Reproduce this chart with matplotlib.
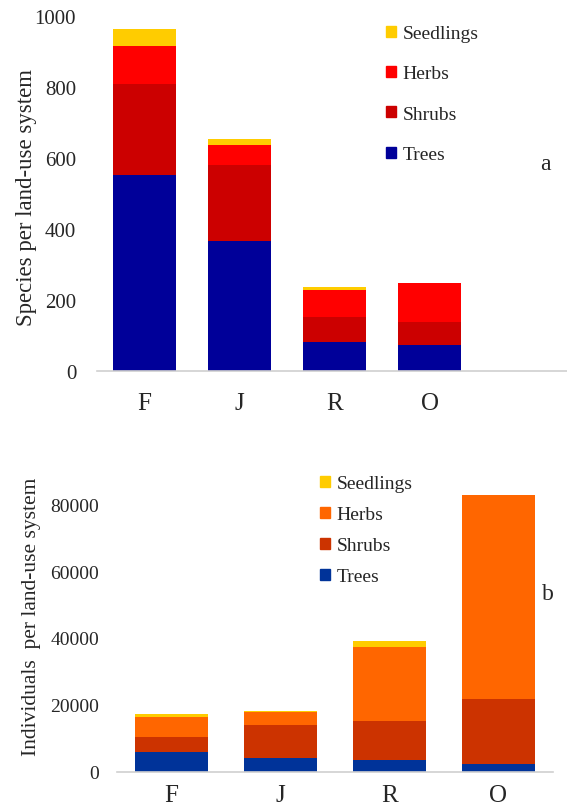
import matplotlib.pyplot as plt
from matplotlib.patches import Patch
import numpy as np

plt.rcParams['font.family'] = ['Liberation Serif', 'DejaVu Serif']

# Panel a: species per land-use system
cats_a = ["F", "J", "R", "O", ""]
trees_a = [553, 366, 83, 73, 0]
shrubs_a = [255, 214, 70, 66, 0]
herbs_a = [107, 57, 76, 110, 0]
seedlings_a = [48, 16, 8, 0, 0]

# Panel b: individuals per land-use system
cats_b = ["F", "J", "R", "O"]
trees_b = [6000, 4000, 3600, 2200]
shrubs_b = [4500, 10000, 11700, 19400]
herbs_b = [6000, 3800, 22100, 61000]
seedlings_b = [700, 400, 1800, 250]

col_a = {"Trees": "#000099", "Shrubs": "#CC0000", "Herbs": "#FF0000", "Seedlings": "#FFCC00"}
col_b = {"Trees": "#003399", "Shrubs": "#CC3300", "Herbs": "#FF6600", "Seedlings": "#FFCC00"}
txt = "#262626"

W, H = 567, 812
fig = plt.figure(figsize=(W / 100, H / 100), dpi=100)


def stack(ax, cats, series, colors, width):
    x = np.arange(len(cats))
    bottom = np.zeros(len(cats))
    for name, vals in series:
        ax.bar(x, vals, width, bottom=bottom, color=colors[name], label=name)
        bottom += np.array(vals)
    ax.set_xticks(x)
    ax.set_xticklabels(cats)
    ax.set_xlim(-0.5, len(cats) - 0.5)
    for s in ["top", "right", "left"]:
        ax.spines[s].set_visible(False)
    ax.spines["bottom"].set_color("#D0D0D0")
    ax.spines["bottom"].set_linewidth(1.2)
    ax.tick_params(length=0, colors=txt)
    ax.tick_params(axis="x", labelsize=18)


# top panel
ax1 = fig.add_axes([97 / W, 1 - 372 / H, 475 / W, 355 / H])
stack(ax1, cats_a, [("Trees", trees_a), ("Shrubs", shrubs_a), ("Herbs", herbs_a),
                    ("Seedlings", seedlings_a)], col_a, 0.66)
ax1.set_ylim(0, 1000)
ax1.set_yticks(range(0, 1001, 200))
ax1.tick_params(axis="y", pad=15, labelsize=15)
ax1.tick_params(axis="x", pad=15)
fig.text(27 / W, 1 - 197 / H, "Species per land-use system", rotation=90,
         ha="center", va="center", fontsize=16.4, color=txt)
fig.text(545 / W, 1 - 165 / H, "a", ha="center", va="center", fontsize=17, color=txt)
h1 = [Patch(color=col_a[n]) for n in ["Seedlings", "Herbs", "Shrubs", "Trees"]]
fig.legend(h1, ["Seedlings", "Herbs", "Shrubs", "Trees"], loc="upper left",
           bbox_to_anchor=(386 / W, 1 - 26 / H), frameon=False, fontsize=14,
           handlelength=0.5, handleheight=0.5, handletextpad=0.35,
           labelspacing=1.2, borderpad=0, borderaxespad=0, labelcolor=txt)

# bottom panel
ax2 = fig.add_axes([117 / W, 1 - 772.7 / H, 436 / W, 301 / H])
stack(ax2, cats_b, [("Trees", trees_b), ("Shrubs", shrubs_b), ("Herbs", herbs_b),
                    ("Seedlings", seedlings_b)], col_b, 0.67)
ax2.set_ylim(0, 90000)
ax2.set_yticks(range(0, 80001, 20000))
ax2.tick_params(axis="y", pad=13, labelsize=14)
ax2.tick_params(axis="x", pad=9)
fig.text(32 / W, 1 - 617 / H, "Individuals  per land-use system", rotation=90,
         ha="center", va="center", fontsize=15.5, color=txt)
fig.text(548 / W, 1 - 595 / H, "b", ha="center", va="center", fontsize=17, color=txt)
h2 = [Patch(color=col_b[n]) for n in ["Seedlings", "Herbs", "Shrubs", "Trees"]]
fig.legend(h2, ["Seedlings", "Herbs", "Shrubs", "Trees"], loc="upper left",
           bbox_to_anchor=(320 / W, 1 - 476 / H), frameon=False, fontsize=14,
           handlelength=0.5, handleheight=0.5, handletextpad=0.35,
           labelspacing=0.72, borderpad=0, borderaxespad=0, labelcolor=txt)

fig.savefig("out.png", dpi=100)
